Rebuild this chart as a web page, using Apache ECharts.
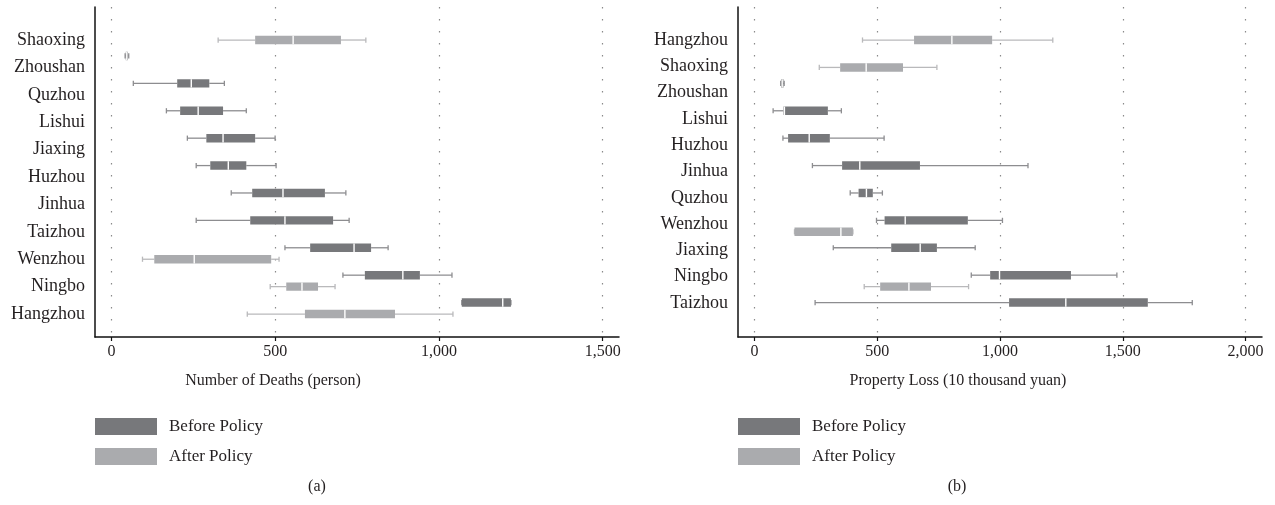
<!DOCTYPE html>
<html>
<head>
	<meta charset="UTF-8">
	<title>box plots before / after policy</title>
	<script src="https://cdn.jsdelivr.net/npm/echarts@6/dist/echarts.min.js"></script>
	<style>
		html, body { margin: 0; padding: 0; background: #fff; }
		#main { width: 1275px; height: 505px; }
	</style>
</head>
<body>
<div id="main"></div>

<script type="text/javascript">

	// panel (a): deaths, cities top to bottom
	var citiesA = ['Shaoxing', 'Zhoushan', 'Quzhou', 'Lishui', 'Jiaxing', 'Huzhou', 'Jinhua', 'Taizhou', 'Wenzhou', 'Ningbo', 'Hangzhou'];
	// [min, q1, median, q3, max], null = no box
	var deathsBefore = [
		null,
		[42, 44, 47, 50, 53],
		[67, 201, 244, 299, 345],
		[168, 210, 265, 341, 412],
		[232, 290, 341, 439, 500],
		[259, 302, 357, 412, 503],
		[366, 430, 524, 652, 716],
		[259, 424, 530, 677, 726],
		[530, 607, 741, 793, 845],
		[707, 774, 890, 942, 1040],
		[1070, 1070, 1195, 1220, 1220]
	];
	var deathsAfter = [
		[326, 439, 555, 701, 777],
		null, null, null, null, null, null, null,
		[95, 131, 253, 488, 512],
		[485, 534, 582, 631, 683],
		[415, 591, 713, 866, 1043]
	];

	// panel (b): property loss
	var citiesB = ['Hangzhou', 'Shaoxing', 'Zhoushan', 'Lishui', 'Huzhou', 'Jinhua', 'Quzhou', 'Wenzhou', 'Jiaxing', 'Ningbo', 'Taizhou'];
	var lossBefore = [
		null,
		null,
		[107, 109, 113, 118, 121],
		[76, 118, 122, 299, 354],
		[116, 137, 223, 307, 528],
		[236, 357, 429, 674, 1114],
		[390, 424, 456, 482, 521],
		[497, 530, 614, 869, 1010],
		[321, 557, 675, 743, 899],
		[883, 960, 998, 1289, 1476],
		[247, 1037, 1268, 1602, 1783]
	];
	var lossAfter = [
		[440, 650, 804, 968, 1215],
		[264, 349, 455, 605, 743],
		null, null, null, null, null,
		[163, 163, 352, 401, 401],
		null,
		[447, 512, 629, 719, 872],
		null
	];

	var ticksA = [0, 500, 1000, 1500];
	var ticksB = [0, 500, 1000, 1500, 2000];

	var FONT = '"Liberation Serif", "Times New Roman", serif';
	var TXT = '#231f20';
	var DARK = '#77787b';
	var LIGHT = '#aaabae';

	function toData(list) {
		var out = [];
		for (var i = 0; i < list.length; i++) {
			if (list[i]) out.push([i].concat(list[i]));
		}
		return out;
	}

	// same slot layout as the echarts boxplot (two series per band)
	function makeRender(side, whiskerColor) {
		return function (params, api) {
			var cat = api.value(0);
			var band = api.size([0, 1])[1];
			var avail = band * 0.8 - 2;
			var gap = avail / 2 * 0.3;
			var bw = (avail - gap) / 2;
			var y = api.coord([0, cat])[1] + side * (bw + gap) / 2;
			var xs = [];
			for (var i = 1; i <= 5; i++) xs.push(api.coord([api.value(i), cat])[0]);
			var wl = { stroke: whiskerColor, lineWidth: 1.3 };
			var cap = 2.6;
			return {
				type: 'group',
				children: [
					{ type: 'line', shape: { x1: xs[0], y1: y, x2: xs[1], y2: y }, style: wl },
					{ type: 'line', shape: { x1: xs[3], y1: y, x2: xs[4], y2: y }, style: wl },
					{ type: 'line', shape: { x1: xs[0], y1: y - cap, x2: xs[0], y2: y + cap }, style: wl },
					{ type: 'line', shape: { x1: xs[4], y1: y - cap, x2: xs[4], y2: y + cap }, style: wl },
					{ type: 'rect', shape: { x: xs[1], y: y - bw / 2, width: Math.max(xs[3] - xs[1], 1.5), height: bw },
						style: { fill: api.visual('color') } },
					{ type: 'line', shape: { x1: xs[2], y1: y - bw / 2, x2: xs[2], y2: y + bw / 2 },
						style: { stroke: '#ffffff', lineWidth: 1.4 } }
				]
			};
		};
	}

	function boxSeries(name, color, whisker, side, gridIdx, list) {
		return {
			type: 'custom',
			name: name,
			xAxisIndex: gridIdx,
			yAxisIndex: gridIdx,
			color: color,
			itemStyle: { color: color },
			renderItem: makeRender(side, whisker),
			encode: { x: [1, 2, 3, 4, 5], y: 0 },
			data: toData(list),
			silent: true
		};
	}

	var fmt = function (v) { return echarts.format.addCommas(v); };

	// grids: 0/1 frame, 2/3 boxes, 4/5 category labels
	var grids = [
		{ left: 95, top: 7, width: 524, height: 330 },
		{ left: 738, top: 7, width: 524, height: 330 },
		{ left: 95, top: 20.6, width: 524, height: 301.4 },
		{ left: 738, top: 20.6, width: 524, height: 301.4 },
		{ left: 95, top: 26.3, width: 524, height: 301.4 },
		{ left: 738, top: 26.85, width: 524, height: 289.3 }
	];

	function frameX(gi, min, max, ticks) {
		return {
			type: 'value', gridIndex: gi, min: min, max: max,
			axisLine: { onZero: false, lineStyle: { color: '#111', width: 1.5 } },
			axisTick: { show: true, customValues: ticks, length: 4, lineStyle: { color: '#111', width: 1.2 } },
			axisLabel: { customValues: ticks, formatter: fmt, color: TXT, fontFamily: FONT, fontSize: 16, margin: 7 },
			splitLine: { show: true, lineStyle: { color: '#8a8a8a', width: 1.2, type: [1.5, 10.5] } }
		};
	}
	function frameY(gi) {
		return {
			type: 'value', gridIndex: gi, min: 0, max: 1,
			axisLine: { show: true, onZero: false, lineStyle: { color: '#111', width: 1.5 } },
			axisTick: { show: false }, axisLabel: { show: false }, splitLine: { show: false }
		};
	}
	function hiddenX(gi, min, max) {
		return { type: 'value', gridIndex: gi, min: min, max: max, show: false, splitLine: { show: false } };
	}
	function catY(gi, cats, showLabels) {
		return {
			type: 'category', gridIndex: gi, data: cats, inverse: true,
			axisLine: { show: false }, axisTick: { show: false }, splitLine: { show: false },
			axisLabel: { show: showLabels, color: TXT, fontFamily: FONT, fontSize: 18, margin: 10 }
		};
	}

	function legendAt(left) {
		return {
			orient: 'vertical', left: left, top: 418, padding: 0,
			itemWidth: 62, itemHeight: 17, itemGap: 13, icon: 'rect',
			selectedMode: false,
			data: ['Before Policy', 'After Policy'],
			textStyle: { color: TXT, fontFamily: FONT, fontSize: 17, padding: [0, 0, 0, 7] }
		};
	}

	function label(text, x, y) {
		return {
			type: 'text', x: x, y: y, silent: true,
			style: { text: text, fill: TXT, font: '16px ' + FONT, align: 'center', verticalAlign: 'middle' }
		};
	}

	var myChart = echarts.init(document.getElementById('main'));
	var option = {
		animation: false,
		backgroundColor: '#ffffff',
		grid: grids,
		xAxis: [
			frameX(0, -50, 1550, ticksA),
			frameX(1, -67, 2067, ticksB),
			hiddenX(2, -50, 1550),
			hiddenX(3, -67, 2067),
			hiddenX(4, -50, 1550),
			hiddenX(5, -67, 2067)
		],
		yAxis: [
			frameY(0),
			frameY(1),
			catY(2, citiesA, false),
			catY(3, citiesB, false),
			catY(4, citiesA, true),
			catY(5, citiesB, true)
		],
		legend: [legendAt(95), legendAt(738)],
		graphic: [
			label('Number of Deaths (person)', 273, 381),
			label('Property Loss (10 thousand yuan)', 958, 381),
			label('(a)', 317, 487),
			label('(b)', 957, 487)
		],
		series: [
			boxSeries('Before Policy', DARK, '#8d8d90', -1, 2, deathsBefore),
			boxSeries('After Policy', LIGHT, '#b9b9bb', 1, 2, deathsAfter),
			boxSeries('Before Policy', DARK, '#8d8d90', -1, 3, lossBefore),
			boxSeries('After Policy', LIGHT, '#b9b9bb', 1, 3, lossAfter)
		]
	};
	myChart.setOption(option);

</script>
</body>
</html>
